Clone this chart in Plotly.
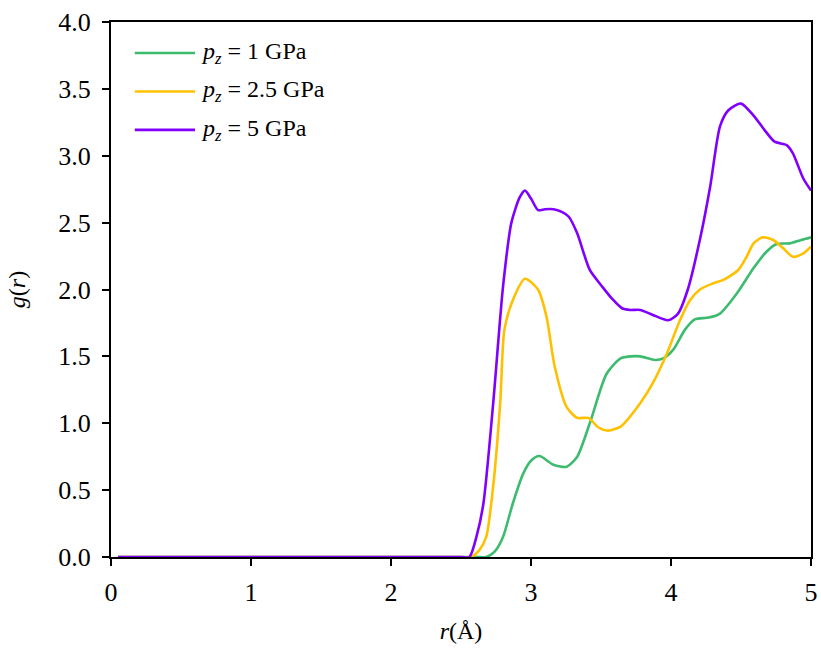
import plotly.graph_objects as go

# Series data
r_1 = [0.05, 2.60, 2.68, 2.74, 2.80, 2.87, 2.945, 3.00, 3.06, 3.16, 3.255, 3.33, 3.42, 3.54, 3.64, 3.71, 3.78,
       3.886, 3.945, 4.016, 4.10, 4.17, 4.27, 4.35, 4.47, 4.59, 4.68, 4.755, 4.85, 4.93, 5.0]
g_1 = [0, 0, 0, 0.04, 0.15, 0.40, 0.625, 0.72, 0.755, 0.69, 0.675, 0.75, 1.0, 1.37, 1.485, 1.50, 1.50,
       1.473, 1.485, 1.55, 1.70, 1.777, 1.79, 1.82, 1.97, 2.16, 2.28, 2.34, 2.345, 2.37, 2.39]

r_25 = [0.05, 2.50, 2.57, 2.63, 2.68, 2.73, 2.78, 2.81, 2.87, 2.957, 3.05, 3.11, 3.17, 3.255, 3.33, 3.41, 3.48,
        3.55, 3.64, 3.78, 3.87, 3.97, 4.064, 4.136, 4.207, 4.30, 4.37, 4.48, 4.54, 4.59, 4.655, 4.73, 4.80,
        4.87, 4.945, 5.0]
g_25 = [0, 0, 0, 0.05, 0.15, 0.53, 1.15, 1.70, 1.92, 2.08, 2.0, 1.80, 1.42, 1.12, 1.04, 1.04, 0.97,
        0.945, 0.975, 1.15, 1.30, 1.52, 1.77, 1.92, 2.0, 2.046, 2.07, 2.146, 2.245, 2.345, 2.39, 2.37, 2.31,
        2.245, 2.27, 2.32]

r_5 = [0.05, 2.50, 2.56, 2.61, 2.66, 2.73, 2.80, 2.86, 2.92, 2.957, 3.00, 3.05, 3.10, 3.16, 3.22, 3.27, 3.33,
       3.42, 3.51, 3.58, 3.65, 3.71, 3.78, 3.87, 3.98, 4.05, 4.12, 4.21, 4.28, 4.35, 4.41, 4.50, 4.59, 4.67,
       4.74, 4.826, 4.87, 4.945, 5.0]
g_5 = [0, 0, 0, 0.15, 0.40, 1.15, 2.02, 2.50, 2.69, 2.739, 2.68, 2.594, 2.60, 2.60, 2.58, 2.544, 2.42,
       2.146, 2.02, 1.93, 1.86, 1.847, 1.847, 1.81, 1.77, 1.82, 2.0, 2.39, 2.77, 3.22, 3.34, 3.39, 3.30, 3.19,
       3.105, 3.08, 3.02, 2.83, 2.74]

series = [
    ("1", r_1, g_1, "#3dbb6e"),
    ("2.5", r_25, g_25, "#ffc000"),
    ("5", r_5, g_5, "#8000ff"),
]

FONT = "Liberation Serif, Times New Roman, serif"

fig = go.Figure()
for label, xs, ys, color in series:
    fig.add_trace(go.Scatter(
        x=xs, y=ys, mode="lines",
        line=dict(color=color, width=2.6, shape="spline", smoothing=0.7),
        name=f"p_z = {label} GPa",
        showlegend=False,
    ))

# Manual legend (longer line samples like the reference)
for i, (label, xs, ys, color) in enumerate(series):
    yl = 0.942 - i * 0.0718
    fig.add_shape(type="line", xref="paper", yref="paper",
                  x0=0.034, x1=0.12, y0=yl, y1=yl,
                  line=dict(color=color, width=2.6))
    fig.add_annotation(xref="paper", yref="paper", x=0.125, y=yl,
                       xanchor="left", yanchor="middle", showarrow=False,
                       text=f"<i>p</i><sub><i>z</i></sub> = {label} GPa",
                       font=dict(family=FONT, size=24, color="black"))

fig.update_layout(
    width=821, height=653,
    margin=dict(l=111, r=10, t=22, b=96),
    paper_bgcolor="white", plot_bgcolor="white",
    font=dict(family=FONT, size=24, color="black"),
)
fig.update_xaxes(
    range=[0, 5], dtick=1, tick0=0, showgrid=False, zeroline=False, automargin=False,
    showline=True, linecolor="black", linewidth=2, mirror=True,
    ticks="outside", ticklen=7, tickwidth=2, tickcolor="black",
    ticklabelstandoff=4,
    title=dict(text="<i>r</i>(Å)", font=dict(family=FONT, size=24), standoff=16),
    tickfont=dict(family=FONT, size=26),
)
fig.update_yaxes(
    range=[0, 4], dtick=0.5, tick0=0, tickformat=".1f", showgrid=False, zeroline=False, automargin=False,
    showline=True, linecolor="black", linewidth=2, mirror=True,
    ticks="outside", ticklen=7, tickwidth=2, tickcolor="black",
    ticklabelstandoff=6,
    title=dict(text="<i>g</i>(<i>r</i>)", font=dict(family=FONT, size=24), standoff=26),
    tickfont=dict(family=FONT, size=26),
)

fig.write_html("out.html")
